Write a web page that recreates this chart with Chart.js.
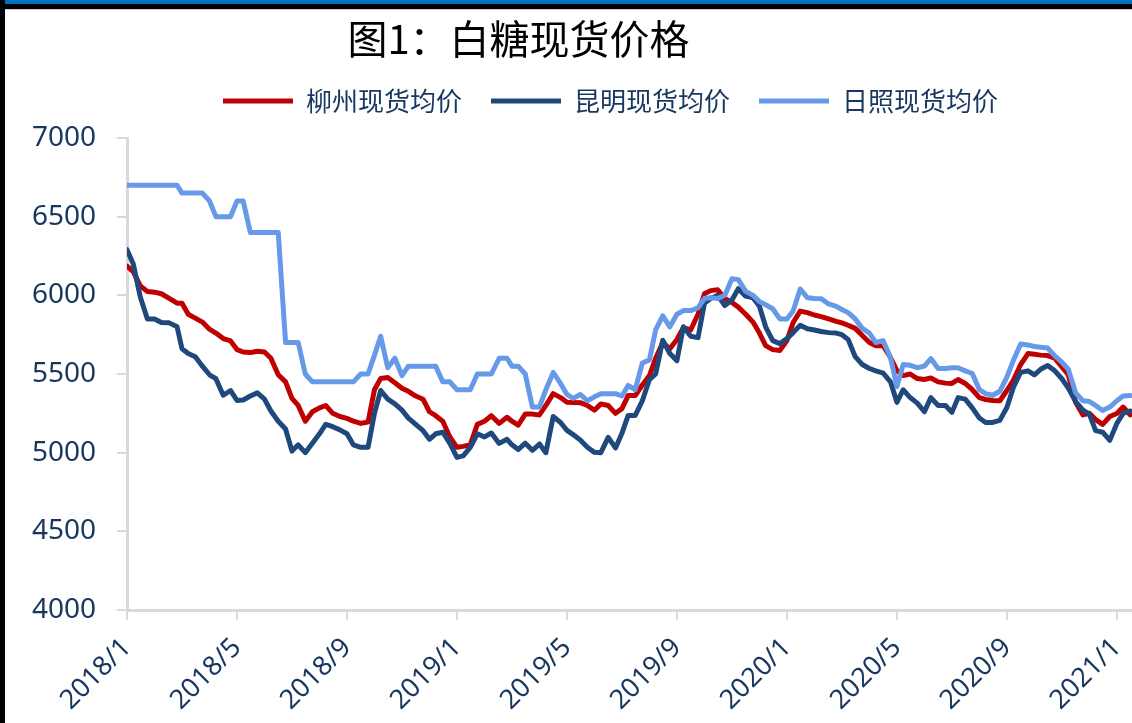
<!DOCTYPE html>
<html>
<head>
<meta charset="utf-8">
<script src="https://cdn.jsdelivr.net/npm/chart.js@4.4.1/dist/chart.umd.min.js"></script>
<style>
  body { margin: 0; background: #000; width: 1132px; height: 723px; overflow: hidden; }
  #topbar { position: absolute; left: 5px; top: 0; width: 1127px; height: 4px; background: #0070c0; }
  #panel { position: absolute; left: 5px; top: 9px; width: 1127px; height: 713px; background: #fff; border-top: 1px solid #cfcfcf; }
  canvas { display: block; }
</style>
</head>
<body>
<div id="topbar"></div>
<div id="panel"><canvas id="chart" width="1127" height="713"></canvas></div>
<script>
// Datum (1., 8., 16., 24. jedes Monats)
const dates = [
  "2018/01/01","2018/01/08","2018/01/16","2018/01/24","2018/02/01","2018/02/08","2018/02/16","2018/02/24",
  "2018/03/01","2018/03/08","2018/03/16","2018/03/24","2018/04/01","2018/04/08","2018/04/16","2018/04/24",
  "2018/05/01","2018/05/08","2018/05/16","2018/05/24","2018/06/01","2018/06/08","2018/06/16","2018/06/24",
  "2018/07/01","2018/07/08","2018/07/16","2018/07/24","2018/08/01","2018/08/08","2018/08/16","2018/08/24",
  "2018/09/01","2018/09/08","2018/09/16","2018/09/24","2018/10/01","2018/10/08","2018/10/16","2018/10/24",
  "2018/11/01","2018/11/08","2018/11/16","2018/11/24","2018/12/01","2018/12/08","2018/12/16","2018/12/24",
  "2019/01/01","2019/01/08","2019/01/16","2019/01/24","2019/02/01","2019/02/08","2019/02/16","2019/02/24",
  "2019/03/01","2019/03/08","2019/03/16","2019/03/24","2019/04/01","2019/04/08","2019/04/16","2019/04/24",
  "2019/05/01","2019/05/08","2019/05/16","2019/05/24","2019/06/01","2019/06/08","2019/06/16","2019/06/24",
  "2019/07/01","2019/07/08","2019/07/16","2019/07/24","2019/08/01","2019/08/08","2019/08/16","2019/08/24",
  "2019/09/01","2019/09/08","2019/09/16","2019/09/24","2019/10/01","2019/10/08","2019/10/16","2019/10/24",
  "2019/11/01","2019/11/08","2019/11/16","2019/11/24","2019/12/01","2019/12/08","2019/12/16","2019/12/24",
  "2020/01/01","2020/01/08","2020/01/16","2020/01/24","2020/02/01","2020/02/08","2020/02/16","2020/02/24",
  "2020/03/01","2020/03/08","2020/03/16","2020/03/24","2020/04/01","2020/04/08","2020/04/16","2020/04/24",
  "2020/05/01","2020/05/08","2020/05/16","2020/05/24","2020/06/01","2020/06/08","2020/06/16","2020/06/24",
  "2020/07/01","2020/07/08","2020/07/16","2020/07/24","2020/08/01","2020/08/08","2020/08/16","2020/08/24",
  "2020/09/01","2020/09/08","2020/09/16","2020/09/24","2020/10/01","2020/10/08","2020/10/16","2020/10/24",
  "2020/11/01","2020/11/08","2020/11/16","2020/11/24","2020/12/01","2020/12/08","2020/12/16","2020/12/24",
  "2021/01/01","2021/01/08","2021/01/16"
];

// 柳州现货均价
const liuzhou = [
  6185,6150,6060,6025, 6020,6010,5980,5950, 5950,5880,5855,5830, 5785,5760,5725,5710,
  5655,5640,5636,5645, 5640,5600,5495,5450, 5345,5300,5200,5260, 5285,5300,5250,5230,
  5218,5200,5186,5195, 5400,5472,5478,5445, 5410,5390,5360,5340, 5260,5235,5200,5100,
  5034,5040,5050,5180, 5200,5235,5186,5225, 5200,5175,5245,5245, 5240,5300,5375,5350,
  5320,5319,5318,5300, 5270,5310,5300,5250, 5280,5363,5363,5430, 5490,5600,5700,5660,
  5720,5795,5780,5880, 6010,6030,6035,5980, 5955,5925,5880,5830, 5760,5680,5655,5649,
  5712,5827,5900,5890, 5875,5865,5850,5835, 5825,5810,5790,5745, 5700,5680,5680,5605,
  5522,5490,5500,5471, 5465,5475,5450,5442, 5440,5465,5440,5400, 5350,5338,5332,5330,
  5395,5460,5560,5630, 5625,5620,5617,5600, 5545,5495,5320,5240, 5250,5210,5180,5230,
  5249,5290,5240
];

// 昆明现货均价
const kunming = [
  6290,6200,5990,5850, 5850,5827,5825,5800, 5660,5630,5610,5550, 5495,5470,5365,5395,
  5332,5335,5360,5380, 5340,5265,5200,5150, 5010,5050,5000,5060, 5120,5180,5165,5145,
  5120,5050,5034,5034, 5250,5395,5340,5310, 5270,5220,5180,5140, 5085,5120,5130,5059,
  4970,4980,5034,5120, 5100,5125,5059,5085, 5050,5020,5060,5015, 5055,5000,5230,5192,
  5142,5115,5080,5034, 5002,5000,5097,5030, 5123,5237,5237,5330, 5465,5500,5715,5630,
  5585,5800,5740,5731, 5950,5980,6000,5935, 5970,6042,5995,5985, 5930,5800,5712,5693,
  5725,5763,5810,5788, 5780,5770,5763,5760, 5750,5720,5610,5560, 5535,5520,5505,5450,
  5320,5400,5350,5315, 5260,5350,5300,5300, 5256,5350,5340,5285, 5220,5192,5192,5205,
  5287,5414,5510,5520, 5495,5530,5554,5520, 5470,5410,5325,5270, 5245,5140,5130,5078,
  5186,5249,5265
];

// 日照现货均价
const rizhao = [
  6700,6700,6700,6700, 6700,6700,6700,6700, 6650,6650,6650,6650, 6600,6500,6500,6500,
  6600,6600,6400,6400, 6400,6400,6400,5700, 5700,5700,5500,5450, 5450,5450,5450,5450,
  5450,5450,5500,5500, 5620,5740,5540,5600, 5490,5550,5550,5550, 5550,5550,5450,5450,
  5400,5400,5400,5500, 5500,5500,5600,5600, 5550,5550,5500,5290, 5290,5400,5510,5440,
  5370,5345,5370,5330, 5355,5375,5375,5375, 5360,5427,5400,5570, 5590,5780,5870,5800,
  5880,5903,5903,5920, 5980,5985,5980,6000, 6106,6100,6025,6000, 5960,5940,5915,5850,
  5850,5900,6040,5985, 5980,5979,5945,5930, 5910,5890,5850,5790, 5760,5700,5712,5605,
  5420,5560,5555,5540, 5550,5598,5535,5535, 5540,5540,5520,5503, 5400,5375,5365,5390,
  5480,5585,5690,5685, 5675,5670,5665,5615, 5575,5530,5380,5330, 5325,5300,5268,5290,
  5330,5360,5363
];

// Achsenbeschriftung unten
const tickLabels = ["2018/1","2018/5","2018/9","2019/1","2019/5","2019/9","2020/1","2020/5","2020/9","2021/1"];

const navy = "#17375e";

// Datum in Monate seit 2018/1 umrechnen
function monthIndex(d) {
  const p = d.split("/").map(Number);
  const tage = new Date(p[0], p[1], 0).getDate();
  return (p[0] - 2018) * 12 + (p[1] - 1) + ((p[2] || 1) - 1) / tage;
}

function points(values) {
  return dates.map(function (d, i) {
    return { x: monthIndex(d), y: values[i] };
  });
}

function lineSet(label, values, color, order) {
  return {
    label: label,
    data: points(values),
    borderColor: color,
    backgroundColor: color,
    borderWidth: 5,
    pointRadius: 0,
    borderCapStyle: "round",
    borderJoinStyle: "round",
    tension: 0,
    order: order,
  };
}

// Titel und Legende verschieben wie im Original
const boxTweak = {
  id: "boxTweak",
  beforeInit(chart) {
    if (chart.legend) {
      const fit = chart.legend.fit;
      chart.legend.fit = function () {
        fit.call(this);
        this.height += 14;
      };
    }
  },
  afterLayout(chart) {
    if (chart.legend) {
      chart.legend.left += 42;
      chart.legend.right += 42;
    }
    if (chart.titleBlock) {
      chart.titleBlock.left -= 50;
      chart.titleBlock.right -= 50;
    }
  },
};

const config = {
  type: "line",
  data: {
    datasets: [
      lineSet("柳州现货均价", liuzhou, "#c00000", 3),
      lineSet("昆明现货均价", kunming, "#1f497d", 2),
      lineSet("日照现货均价", rizhao, "#6699e8", 1),
    ],
  },
  options: {
    responsive: false,
    animation: false,
    layout: { padding: { left: 0, right: 0, top: 0, bottom: 0 } },
    plugins: {
      title: {
        display: true,
        text: "图1：白糖现货价格",
        color: "#000",
        font: { family: "'Noto Sans CJK SC'", size: 40, weight: "normal", lineHeight: 1 },
        padding: { top: 9, bottom: 0 },
      },
      legend: {
        position: "top",
        labels: {
          color: navy,
          font: { family: "'Noto Sans CJK SC'", size: 26 },
          boxWidth: 70,
          boxHeight: 5,
          padding: 29,
          sort: function (a, b) { return a.datasetIndex - b.datasetIndex; },
          generateLabels: function (chart) {
            return Chart.defaults.plugins.legend.labels.generateLabels(chart).map(function (l) {
              l.lineWidth = 0;
              return l;
            });
          },
        },
      },
      tooltip: { enabled: false },
    },
    scales: {
      x: {
        type: "linear",
        min: 0,
        max: 36.55,
        afterBuildTicks: function (scale) {
          scale.ticks = tickLabels.map(function (t) { return { value: monthIndex(t + "/1") }; });
        },
        afterFit: function (scale) {
          scale.height = 113;
          scale.paddingLeft = 0;
          scale.paddingRight = 0;
        },
        ticks: {
          autoSkip: false,
          minRotation: 45,
          maxRotation: 45,
          padding: 12,
          color: navy,
          font: { family: "'Noto Sans'", size: 27 },
          callback: function (value) {
            const t = tickLabels.find(function (l) { return Math.abs(monthIndex(l + "/1") - value) < 0.01; });
            return t || "";
          },
        },
        grid: { drawOnChartArea: false, drawTicks: true, tickLength: 10, color: "#d9d9d9", lineWidth: 2 },
        border: { display: true, color: "#d9d9d9", width: 3 },
      },
      y: {
        min: 4000,
        max: 7000,
        afterFit: function (scale) {
          scale.width = 122;
        },
        ticks: {
          stepSize: 500,
          padding: 21,
          color: navy,
          font: { family: "'Noto Sans'", size: 28 },
          callback: function (value) {
            return String(value);
          },
        },
        grid: { drawOnChartArea: false, drawTicks: true, tickLength: 10, color: "#d9d9d9", lineWidth: 2 },
        border: { display: true, color: "#d9d9d9", width: 3 },
      },
    },
  },
  plugins: [boxTweak],
};

const chart = new Chart(document.querySelector("#chart"), config);
</script>
</body>
</html>
